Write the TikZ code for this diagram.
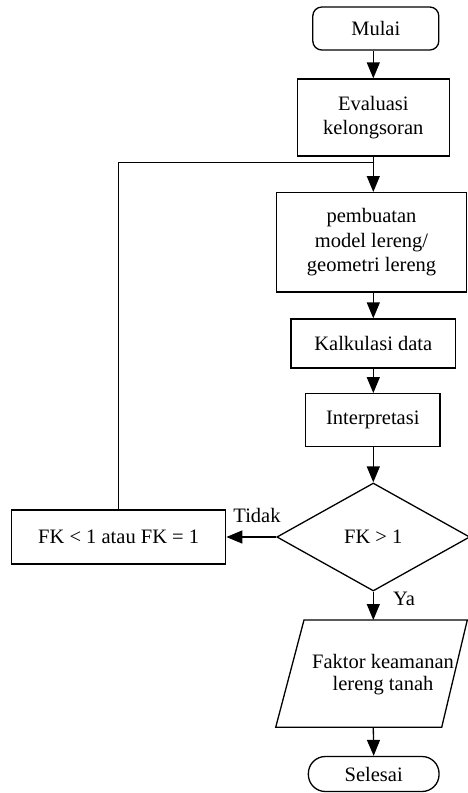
\documentclass[tikz,border=0pt]{standalone}
\usepackage{fontspec}
\setmainfont{Liberation Serif}
\usetikzlibrary{arrows.meta,shapes.geometric}
\begin{document}
\begin{tikzpicture}[x=1pt,y=-1pt,
  every node/.style={font=\fontsize{20.5}{24.5}\selectfont, inner sep=0pt},
  box/.style={draw, line width=1.3pt, align=center},
  term/.style={draw, line width=1.3pt, align=center},
  line/.style={line width=1.3pt},
  arr/.style={line width=1.3pt, -{Triangle[length=16pt,width=13pt]}},
  lbl/.style={font=\fontsize{20.5}{24.5}\selectfont}]
\useasboundingbox (0,0) rectangle (468,793);
\node[term, rounded corners=9pt, minimum width=126pt, minimum height=43pt] (mulai) at (375.8,28.5) {Mulai};
\node[box, minimum width=152pt, minimum height=77pt] (eval) at (373.3,117.5) {Evaluasi\\kelongsoran};
\node[box, minimum width=190.5pt, minimum height=99.3pt] (pemb) at (371.5,242.3) {pembuatan\\model lereng/\\geometri lereng};
\node[box, minimum width=164.7pt, minimum height=49pt] (kalk) at (373.3,343.5) {Kalkulasi data};
\node[box, minimum width=134.3pt, minimum height=53pt] (interp) at (372.8,420.2) {Interpretasi};
\node[draw, line width=1.3pt, shape=diamond, minimum width=193pt, minimum height=108pt] (dec) at (373.3,537) {FK {\fontspec{Liberation Serif}>} 1};
\node[box, minimum width=214pt, minimum height=54pt] (fk) at (118.7,537) {FK < 1 atau FK = 1};
\coordinate (p1) at (304,620);
\coordinate (p2) at (467.3,620);
\coordinate (p3) at (441.7,727.3);
\coordinate (p4) at (275.7,727.3);
\draw[line, line join=miter] (p1) -- (p2) -- (p3) -- (p4) -- cycle;
\coordinate (paratop) at (373.3,620);
\coordinate (parabot) at (373.3,727.3);
\node[align=center, font=\fontsize{20.5}{22}\selectfont] (para) at (383,675) {Faktor keamanan\\lereng tanah};
\node[term, rounded corners=17pt, minimum width=130.7pt, minimum height=35pt] (sel) at (373.7,774) {Selesai};
\draw[arr] (mulai.south -| eval.north) -- (eval.north);
\draw[arr] (eval.south) -- (eval.south |- pemb.north);
\draw[arr] (pemb.south -| kalk.north) -- (kalk.north);
\draw[arr] (kalk.south) -- (kalk.south |- interp.north);
\draw[arr] (interp.south -| dec.north) -- (dec.north);
\draw[arr] (dec.west) -- (fk.east);
\node[lbl] (tidak) at (257,515) {Tidak};
\coordinate (join) at (373.3,162.3);
\draw[line] (fk.north) |- (join);
\draw[arr] (dec.south) -- (paratop);
\node[lbl] (ya) at (404,599) {Ya};
\draw[arr] (parabot) -- (sel.north);
\end{tikzpicture}
\end{document}
